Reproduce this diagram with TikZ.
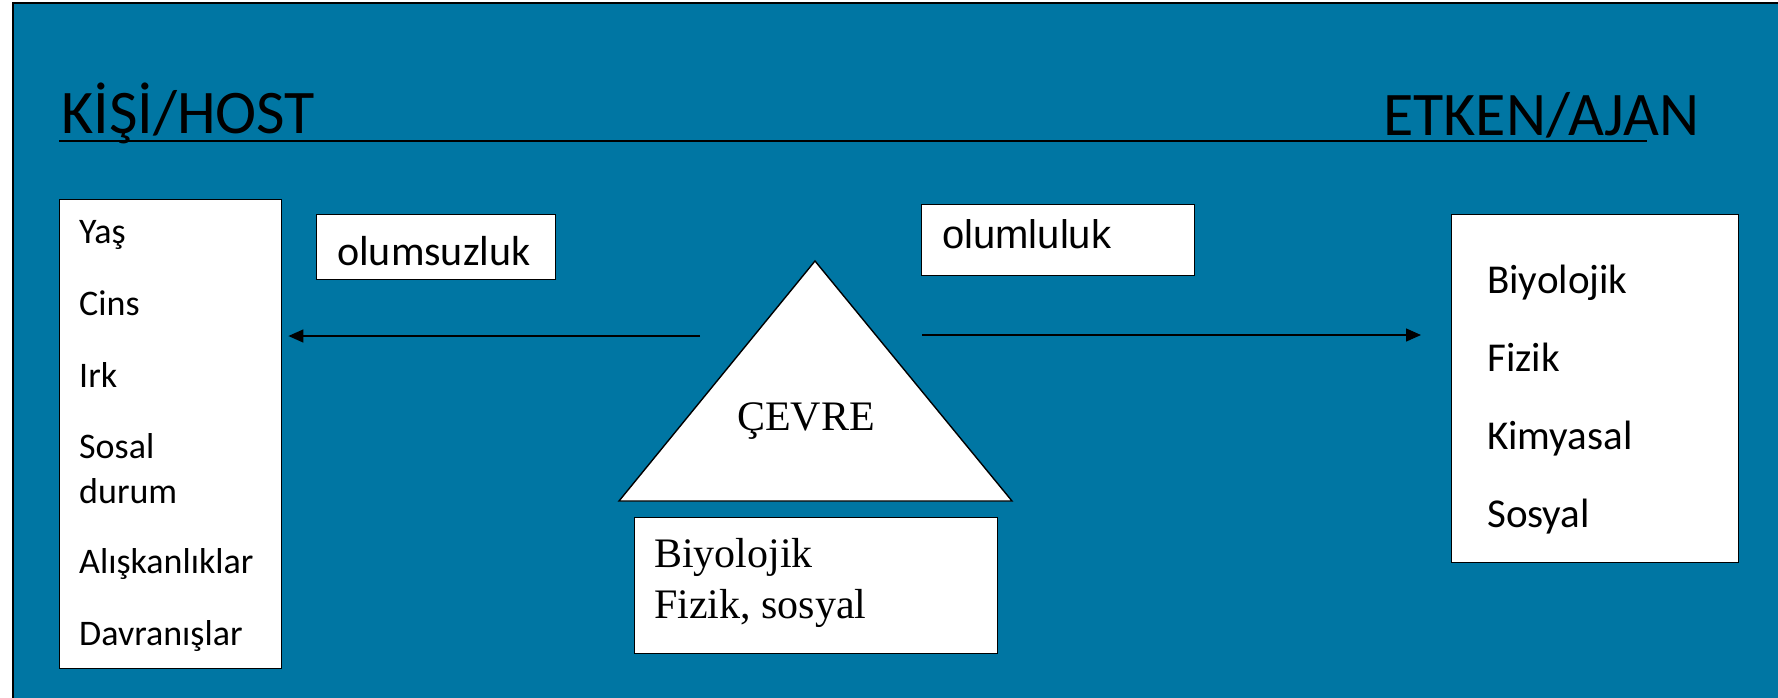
\documentclass[tikz,border=0pt]{standalone}
\usepackage{fontspec}
\setmainfont{Carlito}
\newfontfamily\serifA{Liberation Serif}
\newfontfamily\arialA{Liberation Sans}
\usetikzlibrary{arrows.meta}
\definecolor{bgblue}{RGB}{0,118,163}
\tikzset{
  panel/.style={draw=black, line width=1.6pt, fill=bgblue},
  whitebox/.style={draw=black, line width=1.4pt, fill=white, inner sep=0pt, anchor=north west},
  txt/.style={anchor=base west, inner sep=0pt},
  titlefont/.style={font=\fontsize{62}{70}\selectfont},
  listfont/.style={font=\fontsize{36}{40}\selectfont},
  agentfont/.style={font=\fontsize{41}{46}\selectfont},
  conn/.style={line width=1.4pt, -{Triangle[length=15pt,width=13pt]}}
}
\begin{document}
\begin{tikzpicture}[x=1pt,y=-1pt]
\useasboundingbox (0,0) rectangle (1778,697);
\fill[white] (0,0) rectangle (1778,697);
\draw[panel] (13,3) rectangle (1800,720);

% titles
\node[txt, titlefont] (host) at (61,133) {KİŞİ/HOST};
\node[txt, titlefont] (agent) at (1383,135) {ETKEN/AJAN};
\coordinate (ulA) at (59,141);
\coordinate (ulB) at (1647,141);
\draw[line width=1.8pt] (ulA) -- (ulB);

% host box
\node[whitebox, minimum width=222pt, minimum height=469pt] (hostbox) at (59,199) {};
\node[txt, listfont] (h1) at (79,243) {Yaş};
\node[txt, listfont] (h2) at (79,315) {Cins};
\node[txt, listfont] (h3) at (79,387) {Irk};
\node[txt, listfont] (h4) at (79,458) {Sosal};
\node[txt, listfont] (h5) at (79,503) {durum};
\node[txt, listfont] (h6) at (79,573) {Alışkanlıklar};
\node[txt, listfont] (h7) at (79,645) {Davranışlar};

% olumsuzluk
\node[whitebox, minimum width=239pt, minimum height=65pt] (negbox) at (316,214) {};
\node[txt, font=\fontsize{42}{46}\selectfont] (negtxt) at (337,265) {olumsuzluk};

% olumluluk
\node[whitebox, minimum width=273pt, minimum height=71pt] (posbox) at (921,204) {};
\node[txt, font=\arialA\fontsize{40}{44}\selectfont] (postxt) at (942,248) {olumluluk};

% triangle
\coordinate (tA) at (815,261);
\coordinate (tL) at (619,501);
\coordinate (tR) at (1012,501);
\draw[fill=white, line width=1.4pt] (tA) -- (tL) -- (tR) -- cycle;
\node[txt, font=\serifA\fontsize{42}{46}\selectfont] (cevre) at (737,430) {ÇEVRE};

% bottom box
\node[whitebox, minimum width=363pt, minimum height=136pt] (envbox) at (634,517) {};
\node[txt, font=\serifA\fontsize{42}{46}\selectfont] (e1) at (654,567) {Biyolojik};
\node[txt, font=\serifA\fontsize{42}{46}\selectfont] (e2) at (654,618) {Fizik, sosyal};

% agent box
\node[whitebox, minimum width=287pt, minimum height=348pt] (agentbox) at (1451,214) {};
\node[txt, agentfont] (a1) at (1487,293) {Biyolojik};
\node[txt, agentfont] (a2) at (1487,371) {Fizik};
\node[txt, agentfont] (a3) at (1487,449) {Kimyasal};
\node[txt, agentfont] (a4) at (1487,527) {Sosyal};

% arrows
\coordinate (lstart) at (700,336);
\coordinate (rstart) at (922,335);
\draw[conn, shorten >=6pt] (lstart) -- (lstart -| hostbox.east);
\draw[conn, shorten >=30pt] (rstart) -- (rstart -| agentbox.west);
\end{tikzpicture}
\end{document}
